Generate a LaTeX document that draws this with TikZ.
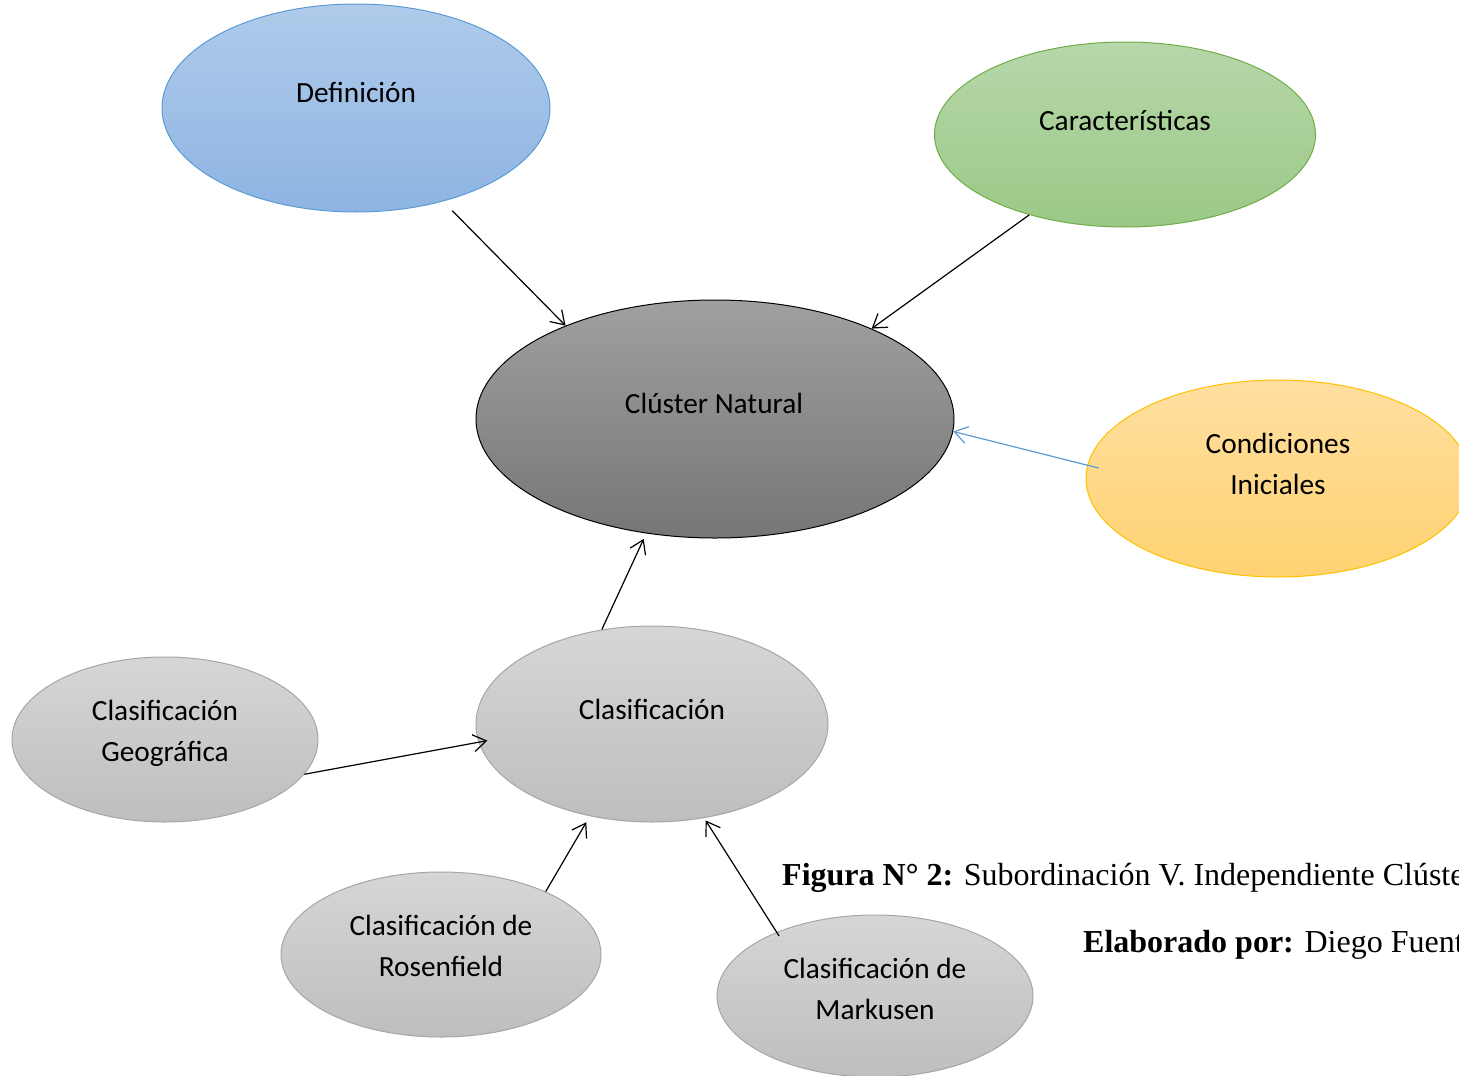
\documentclass[tikz,border=0pt]{standalone}
\usepackage{fontspec}
\setmainfont{Liberation Serif}
\newfontfamily\calibri{Carlito}
\usetikzlibrary{shapes.geometric,arrows.meta}
\definecolor{defTop}{RGB}{176,203,235}
\definecolor{defBot}{RGB}{141,180,226}
\definecolor{defLine}{RGB}{91,155,213}
\definecolor{carTop}{RGB}{183,216,170}
\definecolor{carBot}{RGB}{155,200,134}
\definecolor{carLine}{RGB}{112,173,71}
\definecolor{cluTop}{RGB}{160,160,160}
\definecolor{cluBot}{RGB}{118,118,118}
\definecolor{conTop}{RGB}{255,223,160}
\definecolor{conBot}{RGB}{255,211,114}
\definecolor{conLine}{RGB}{255,192,0}
\definecolor{grTop}{RGB}{214,214,214}
\definecolor{grBot}{RGB}{190,190,190}
\definecolor{grLine}{RGB}{166,166,166}
\definecolor{arrBlue}{RGB}{91,155,213}
\tikzset{
  oval/.style={ellipse, inner sep=0pt, line width=1pt},
  lbl/.style={anchor=base, inner sep=0pt, font=\calibri\fontsize{29.3}{41}\selectfont},
  captxt/.style={anchor=base west, inner sep=0pt, font=\fontsize{32}{36}\selectfont},
  conn/.style={draw=black, line width=1.2pt, -{Straight Barb[length=13pt,width=17pt,line width=1.2pt]}},
}
\begin{document}
\begin{tikzpicture}[x=1pt,y=-1pt]
\clip (0,0) rectangle (1459,1076);
\fill[white] (0,0) rectangle (1459,1076);
% ellipses
\node[oval, draw=defLine, top color=defTop, bottom color=defBot, minimum width=388pt, minimum height=208pt] (def) at (356,108) {};
\node[oval, draw=carLine, top color=carTop, bottom color=carBot, minimum width=381pt, minimum height=185pt] (car) at (1125,134.5) {};
\node[oval, draw=black, top color=cluTop, bottom color=cluBot, minimum width=478pt, minimum height=238pt] (clu) at (715,419) {};
\node[oval, draw=conLine, top color=conTop, bottom color=conBot, minimum width=384pt, minimum height=197pt] (con) at (1278,478.5) {};
\node[oval, draw=grLine, top color=grTop, bottom color=grBot, minimum width=352pt, minimum height=196pt] (cla) at (652,724) {};
\node[oval, draw=grLine, top color=grTop, bottom color=grBot, minimum width=306pt, minimum height=165pt] (geo) at (165,739.5) {};
\node[oval, draw=grLine, top color=grTop, bottom color=grBot, minimum width=320pt, minimum height=165pt] (ros) at (441,954.5) {};
\node[oval, draw=grLine, top color=grTop, bottom color=grBot, minimum width=316pt, minimum height=162pt] (mar) at (875,996) {};
% labels
\node[lbl] (tdef) at (356,102) {Definición};
\node[lbl] (tcar) at (1125,130) {Características};
\node[lbl] (tclu) at (714,413) {Clúster Natural};
\node[lbl] (tcon1) at (1278,453) {Condiciones};
\node[lbl] (tcon2) at (1278,494) {Iniciales};
\node[lbl] (tcla) at (652,719) {Clasificación};
\node[lbl] (tgeo1) at (165,720) {Clasificación};
\node[lbl] (tgeo2) at (165,761) {Geográfica};
\node[lbl] (tros1) at (441,935) {Clasificación de};
\node[lbl] (tros2) at (441,976) {Rosenfield};
\node[lbl] (tmar1) at (875,978) {Clasificación de};
\node[lbl] (tmar2) at (875,1019) {Markusen};
% connectors
\draw[conn, shorten <=13pt] (def.-47.9) -- (clu.148);
\draw[conn] (car.-140.4) -- (clu.30.5);
\draw[conn, draw=arrBlue, shorten <=-12pt] (con.176.8) -- (clu.-3.1);
\draw[conn, shorten >=6pt] (cla.118.6) -- (clu.-121.75);
\draw[conn, shorten >=-9pt] (geo.-14.3) -- (cla.186.1);
\draw[conn, shorten >=7pt] (ros.31.6) -- (cla.-124.2);
\draw[conn, shorten <=-4.7pt, shorten >=2.7pt] (mar.147.7) -- (cla.-61.2);
% caption
\node[captxt] (fig) at (782,885) {\textbf{Figura N° 2:} Subordinación V. Independiente Clúster Natural};
\node[captxt] (ela) at (1083,952) {\textbf{Elaborado por:} Diego Fuentes};
\end{tikzpicture}
\end{document}
